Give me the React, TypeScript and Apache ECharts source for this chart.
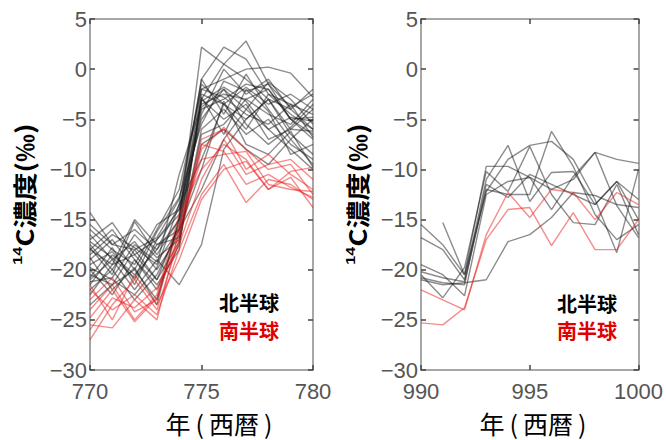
import React, { useEffect, useRef } from "react";
import * as echarts from "echarts";

// ---------- data ----------
const yearsA = [770, 771, 772, 773, 774, 775, 776, 777, 778, 779, 780];
const yearsB = [990, 991, 992, 993, 994, 995, 996, 997, 998, 999, 1000];
const yTicks = [-30, -25, -20, -15, -10, -5, 0, 5];

// Northern hemisphere (black) 770-780
const northA: (number | null)[][] = [
  [-14.3, -17.5, -16, -18, -15, 2.2, 0.5, -1, -3, -4, -6],
  [-17, -15.3, -18.5, -17, -14.5, -1, 2.2, 1, -2.5, -3.5, -4.5],
  [-18, -19.5, -15, -17.5, -16, -3, 0.5, 2.8, -1.5, -5, -7],
  [-19, -17, -20, -16, -12, -2, -1, 0, 0.2, -0.4, -2.8],
  [-20.5, -21.5, -18, -21, -15.5, -4, -3, -1.5, -2, -5, -6.5],
  [-16, -18, -19.5, -15.5, -14, -5, -2, -4, -1.3, -3, -5.5],
  [-21, -19, -22, -19, -21.5, -17.5, -8, -5, -3, -6, -4],
  [-22, -20, -23, -20.5, -16, -12, -7, -4, -6, -8, -10],
  [-18.5, -16.5, -17.8, -19.5, -10.5, -3.5, -2.5, -3, -4.5, -5.5, -3],
  [-17.5, -20, -16.5, -18.8, -17, -6, -4, -6.5, -5, -7.5, -9],
  [-20, -22.5, -19, -22, -17.5, -3, -5, -3.5, -7, -6, -6.2],
  [-15.5, -17.5, -18, -16.8, -13, -1.5, -3.5, -1.8, -3.5, -2.5, -4],
  [-19.5, -18.2, -21, -17.5, -16.8, -7.5, -6, -8, -9.5, -7, -9.5],
  [-23.5, -21.5, -20, -23, -15, -4.5, 0, -2.5, -1, -4, -2],
  [-18, -16, -19, -21.5, -18, -2.5, -3.5, -5, -3, -6.5, -8.5],
  [-21.5, -18.5, -20.5, -18, -13.5, -9, -3.5, -6, -2.5, -4.5, -6],
  [-16.5, -19, -17.2, -20, -16.5, -3.2, -1.8, -3.2, -6, -4.8, -5.2],
  [-19.8, -21, -22.5, -19.8, -13.5, -1, -4.5, -0.5, -4, -7, -5],
  [-17.8, -20.5, -15.2, -18.5, -15, -2, -2.8, -4.5, -5.5, -3.5, -6.8],
  [-22.5, -19.5, -18.5, -21, -17.2, -6.5, -5.5, -3, -2, -5, -4.8],
  [-20.8, -17.8, -21.5, -17, -14, -3.8, -2, -5.5, -7.5, -5.8, -3.5],
  [-18.8, -22, -19.8, -23.5, -14.8, -2.8, -6.5, -2, -4.2, -8.5, -7.5],
  [-21.2, -20.8, -17.5, -19.2, -16, -10, -3.2, -7.5, -8.5, -6.2, -9.8],
  [-17.2, -18.8, -20.8, -16.2, -12.8, -5.5, -1.2, -2.2, -1.5, -3.8, -2.5],
];

// Southern hemisphere (red) 770-780
const southA: (number | null)[][] = [
  [-27, -23.5, -21, -24, -17, -8, -5.8, -8, -10, -9.5, -12.5],
  [-25.5, -25.8, -23, -25, -16, -7, -6, -10, -8.5, -10.5, -12],
  [-24, -21.5, -25, -22.5, -14.5, -10, -7.5, -9, -12, -10.8, -13.8],
  [-22, -24, -22.5, -24.5, -18, -12.5, -9.5, -13.3, -11, -11.5, -13],
  [-23, -20.8, -24.2, -23, -15.5, -9, -8.5, -8.2, -11.5, -12, -12.2],
  [-26, -22.8, -23.8, -21.8, -17.5, -11, -7, -10.5, -9.5, -9, -11],
  [-21.5, -25, -20.5, -23.5, -19, -13, -10, -9.2, -12, -10.2, -9.8],
  [-24.8, -22, -25.2, -22.8, -16.5, -7.5, -8.2, -11.5, -10.5, -11.8, -12.8],
];

// Northern hemisphere (black) 990-1000
const northB: (number | null)[][] = [
  [-15.5, -17.5, -20.5, -9.7, -9.7, -10.8, -12, -11, -8.3, -9, -9.4],
  [-16.8, -18, -21, -11, -7.6, -13.2, -10.3, -10.2, -13.5, -11.2, -13],
  [-20.5, -22.8, -19.8, -10.2, -12.2, -7.7, -12.5, -15.3, -15.5, -11.5, -16.5],
  [-21, -21.5, -21.3, -21, -17.2, -16.5, -14.8, -12.3, -12.6, -13.5, -13.8],
  [-20.2, -20.8, -21.2, -12, -12.5, -12.5, -6.2, -9.7, -14.5, -17, -15.5],
  [null, -15.3, -20.5, -12.2, -9, -7.6, -7.2, -9, -13, -18.3, -10],
  [-19.5, -20.5, -22.6, -12.5, -11.2, -10.8, -14, -10.7, -8.3, -13.6, -16.8],
  [-20.8, -21.3, -21.5, -11.5, -12.8, -10.5, -11.5, -12.5, -13.5, -11.2, -15],
];

// Southern hemisphere (red) 990-1000
const southB: (number | null)[][] = [
  [-22, -23, -24, -16.5, -12.3, -14.8, -12, -12.3, -15, -12.3, -13.5],
  [-25.3, -25.5, -23.8, -17, -14, -13.8, -17.6, -14.3, -18, -18, -15],
];

const northLabel = "北半球";
const southLabel = "南半球";
const yTitle = "C濃度(‰)";
const xTitle = "年\u2009(\u2009西暦\u2009)";

// ---------- styles ----------
const GRAY_LINE = "rgba(25,25,25,0.5)";
const RED_LINE = "rgba(235,25,25,0.5)";
const AXIS_COLOR = "#8a8a8a";
const LABEL_COLOR = "#555";
const LEGEND_RED = "#e00000";
const NUM_FONT = "'Liberation Sans', Arial, sans-serif";
const CJK_FONT = "'Noto Sans CJK JP', 'Noto Sans CJK SC', sans-serif";

const fmt = (v: number) => String(v).replace("-", "\u2212");

function xAxesFor(grid: number, min: number, max: number) {
  const base = {
    type: "value" as const,
    gridIndex: grid,
    min,
    max,
    interval: 5,
    splitLine: { show: false },
    axisLine: { show: true, onZero: false, lineStyle: { color: AXIS_COLOR, width: 1.5 } },
    axisTick: { show: true, inside: true, length: 5, lineStyle: { color: "#444", width: 1.5 } },
  };
  return [
    {
      ...base,
      position: "bottom",
      axisLabel: {
        show: true,
        color: LABEL_COLOR,
        fontSize: 22,
        lineHeight: 18,
        fontFamily: NUM_FONT,
        margin: 12,
        formatter: fmt,
      },
    },
    { ...base, position: "top", axisLabel: { show: false } },
  ];
}

function yAxesFor(grid: number) {
  const base = {
    type: "value" as const,
    gridIndex: grid,
    min: yTicks[0],
    max: yTicks[yTicks.length - 1],
    interval: 5,
    splitLine: { show: false },
    axisLine: { show: true, onZero: false, lineStyle: { color: AXIS_COLOR, width: 1.5 } },
    axisTick: { show: true, inside: true, length: 5, lineStyle: { color: "#444", width: 1.5 } },
  };
  return [
    {
      ...base,
      position: "left",
      axisLabel: {
        show: true,
        color: LABEL_COLOR,
        fontSize: 22,
        lineHeight: 18,
        fontFamily: NUM_FONT,
        margin: 3,
        formatter: fmt,
      },
    },
    { ...base, position: "right", axisLabel: { show: false } },
  ];
}

function makeSeries(years: number[], rows: (number | null)[][], color: string, xi: number, yi: number) {
  return rows.map((row) => ({
    type: "line" as const,
    xAxisIndex: xi,
    yAxisIndex: yi,
    symbol: "none",
    showSymbol: false,
    silent: true,
    lineStyle: { color, width: 1.4 },
    data: years
      .map((y, i) => [y, row[i]])
      .filter((p) => p[1] !== null && p[1] !== undefined),
  }));
}

function yTitleGraphic(x: number, y: number) {
  return {
    type: "text",
    x,
    y,
    rotation: Math.PI / 2,
    scaleY: 0.85,
    style: {
      text: "{sup|14}{main|" + yTitle + "}",
      align: "center",
      verticalAlign: "middle",
      fill: "#000",
      rich: {
        sup: { fontSize: 16, fontWeight: "bold", fontFamily: "'Liberation Sans', Arial", fill: "#000", verticalAlign: "top", lineHeight: 30 },
        main: { fontSize: 28, fontWeight: "bold", fontFamily: CJK_FONT, fill: "#000", lineHeight: 30 },
      },
    },
  };
}

function textG(x: number, y: number, text: string, size: number, color: string, bold: boolean, align = "center") {
  return {
    type: "text",
    x,
    y,
    style: {
      text,
      align,
      verticalAlign: "middle",
      fill: color,
      fontSize: size,
      lineHeight: size,
      fontWeight: bold ? "bold" : "normal",
      fontFamily: CJK_FONT,
    },
  };
}

export default function App() {
  const ref = useRef<HTMLDivElement>(null);
  useEffect(() => {
    if (!ref.current) return;
    const chart = echarts.init(ref.current, undefined, { renderer: "svg" });
    const option = {
      animation: false,
      backgroundColor: "#fff",
      grid: [
        { left: 90, top: 19, width: 223, height: 351 },
        { left: 421, top: 19, width: 222, height: 351 },
      ],
      xAxis: [...xAxesFor(0, yearsA[0], yearsA[yearsA.length - 1]), ...xAxesFor(1, yearsB[0], yearsB[yearsB.length - 1])],
      yAxis: [...yAxesFor(0), ...yAxesFor(1)],
      series: [
        ...makeSeries(yearsA, northA, GRAY_LINE, 0, 0),
        ...makeSeries(yearsA, southA, RED_LINE, 0, 0),
        ...makeSeries(yearsB, northB, GRAY_LINE, 2, 2),
        ...makeSeries(yearsB, southB, RED_LINE, 2, 2),
      ],
      graphic: [
        yTitleGraphic(23, 194),
        yTitleGraphic(356, 194),
        textG(219, 423, xTitle, 25, "#000", false),
        textG(533, 423, xTitle, 25, "#000", false),
        textG(279, 302, northLabel, 20, "#000", true, "right"),
        textG(279, 330, southLabel, 20, LEGEND_RED, true, "right"),
        textG(617, 303, northLabel, 20, "#000", true, "right"),
        textG(617, 330, southLabel, 20, LEGEND_RED, true, "right"),
      ],
    };
    chart.setOption(option as any);
    return () => chart.dispose();
  }, []);
  return <div ref={ref} style={{ width: 666, height: 440, position: "absolute", left: 0, top: 0 }} />;
}
